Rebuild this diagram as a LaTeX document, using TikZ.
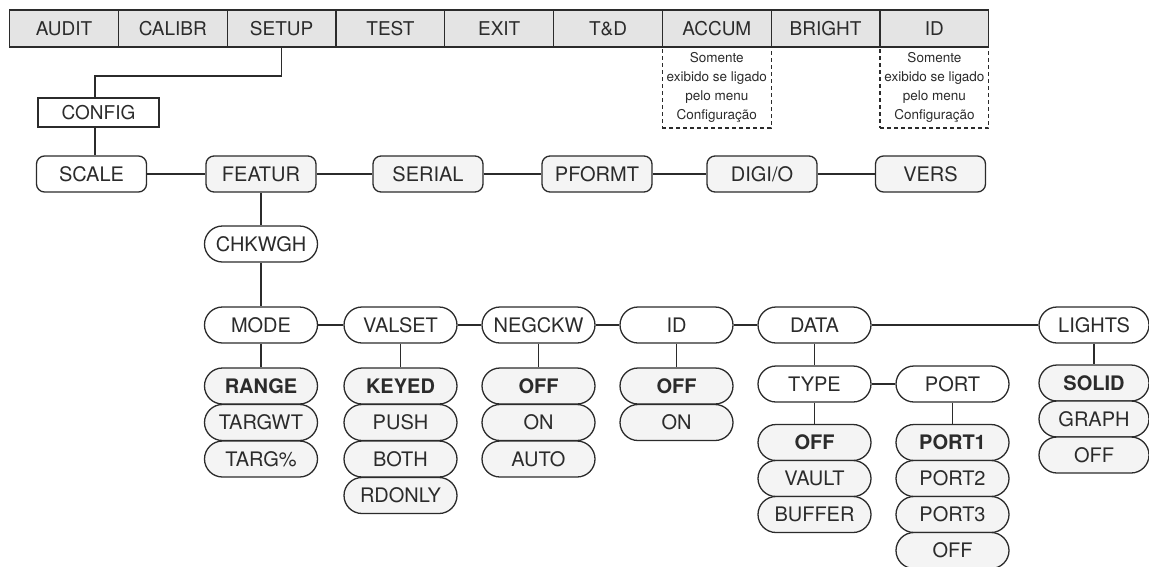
\documentclass[tikz,border=0pt]{standalone}
\usepackage{fontspec}
\setmainfont{TeX Gyre Heros}
\definecolor{ink}{HTML}{2B2B2B}
\definecolor{barfill}{HTML}{E4E4E4}
\definecolor{optfill}{HTML}{F4F4F4}
\begin{document}
\begin{tikzpicture}[x=1pt,y=-1pt,
  every node/.style={font=\fontsize{20}{24}\selectfont, text=ink, inner sep=0pt},
  bar/.style={draw=ink, line width=1.3pt, fill=barfill, minimum width=108.8pt, minimum height=37pt, font=\fontsize{19}{23}\selectfont},
  note/.style={draw=ink, dash pattern=on 4pt off 3pt, line width=1.1pt, minimum width=108.8pt, minimum height=81pt, align=center, font=\fontsize{13.5}{19}\selectfont},
  cfgbox/.style={draw=ink, line width=1.3pt, fill=white, minimum width=121pt, minimum height=29pt, font=\fontsize{19}{23}\selectfont},
  boxr/.style={draw=ink, line width=1.3pt, fill=white, minimum width=110pt, minimum height=36pt, rounded corners=8pt},
  boxg/.style={boxr, fill=optfill},
  pill/.style={draw=ink, line width=1.3pt, fill=white, minimum width=113pt, minimum height=36pt, rounded corners=18pt},
  opt/.style={pill, fill=optfill},
  dflt/.style={opt, font=\fontsize{20}{24}\selectfont\bfseries},
  wire/.style={draw=ink, line width=1.2pt},
  thickwire/.style={draw=ink, line width=2.2pt}
]
\useasboundingbox (0,0) rectangle (1149,566);

% notes under ACCUM and ID
\node[note] (noteA) at (716.8,87.5) {Somente\\exibido se ligado\\pelo menu\\Configuração};
\node[note] (noteB) at (934.4,87.5) {Somente\\exibido se ligado\\pelo menu\\Configuração};

% top bar
\node[bar] (audit)  at (64,28.5)    {AUDIT};
\node[bar] (calibr) at (172.8,28.5) {CALIBR};
\node[bar] (setup)  at (281.6,28.5) {SETUP};
\node[bar] (test)   at (390.4,28.5) {TEST};
\node[bar] (exit)   at (499.2,28.5) {EXIT};
\node[bar] (td)     at (608,28.5)   {T\&D};
\node[bar] (accum)  at (716.8,28.5) {ACCUM};
\node[bar] (bright) at (825.6,28.5) {BRIGHT};
\node[bar] (idtop)  at (934.4,28.5) {ID};

% config
\node[cfgbox] (config) at (98.5,112.5) {CONFIG};

% row 2
\node[boxr] (scale)  at (91.5,174)  {SCALE};
\node[boxg] (featur) at (261,174)   {FEATUR};
\node[boxg] (serial) at (428,174)   {SERIAL};
\node[boxg] (pformt) at (597,174)   {PFORMT};
\node[boxg] (digio)  at (762,174)   {DIGI/O};
\node[boxg] (vers)   at (930.5,174) {VERS};

% chkwgh
\node[pill] (chkwgh) at (261,244) {CHKWGH};

% row 3
\node[pill] (mode)   at (261,325)   {MODE};
\node[pill] (valset) at (400.5,325) {VALSET};
\node[pill] (negckw) at (538.5,325) {NEGCKW};
\node[pill] (idn)    at (676.5,325) {ID};
\node[pill] (data)   at (814.5,325) {DATA};
\node[pill, minimum width=110pt] (lights) at (1094,325) {LIGHTS};

% mode options
\node[dflt] (range)  at (261,386)   {RANGE};
\node[opt]  (targwt) at (261,422.5) {TARGWT};
\node[opt]  (targp)  at (261,459)   {TARG\%};

% valset options
\node[dflt] (keyed)  at (400.5,386)   {KEYED};
\node[opt]  (push)   at (400.5,422.5) {PUSH};
\node[opt]  (both)   at (400.5,459)   {BOTH};
\node[opt]  (rdonly) at (400.5,495.5) {RDONLY};

% negckw options
\node[dflt] (negoff) at (538.5,386)   {OFF};
\node[opt]  (negon)  at (538.5,422.5) {ON};
\node[opt]  (negauto) at (538.5,459)  {AUTO};

% id options
\node[dflt] (idoff) at (676.5,386)   {OFF};
\node[opt]  (idon)  at (676.5,422.5) {ON};

% data submenus
\node[pill] (type) at (814.5,384) {TYPE};
\node[pill] (port) at (952.5,384) {PORT};

\node[dflt] (typeoff) at (814.5,442.5) {OFF};
\node[opt]  (vault)   at (814.5,478.5) {VAULT};
\node[opt]  (buffer)  at (814.5,514.5) {BUFFER};

\node[dflt] (port1)   at (952.5,442.5) {PORT1};
\node[opt]  (port2)   at (952.5,478.5) {PORT2};
\node[opt]  (port3)   at (952.5,514.5) {PORT3};
\node[opt]  (portoff) at (952.5,550.5) {OFF};

% lights options
\node[dflt, minimum width=110pt] (solid) at (1094,383) {SOLID};
\node[opt, minimum width=110pt]  (graph) at (1094,419) {GRAPH};
\node[opt, minimum width=110pt]  (lightoff) at (1094,455) {OFF};

% connectors
\coordinate (j1) at (95,76);
\draw[wire] (setup.south) |- (j1) -- (j1 |- config.north);
\draw[wire] (j1 |- config.south) -- (j1 |- scale.north);

\draw[wire] (scale) -- (featur);
\draw[wire] (featur) -- (serial);
\draw[wire] (serial) -- (pformt);
\draw[wire] (pformt) -- (digio);
\draw[wire] (digio) -- (vers);

\draw[wire] (featur) -- (chkwgh);
\draw[wire] (chkwgh) -- (mode);

\draw[wire] (mode) -- (valset);
\draw[wire] (valset) -- (negckw);
\draw[wire] (negckw) -- (idn);
\draw[wire] (idn) -- (data);
\draw[wire] (data) -- (lights);

\draw[thickwire] (mode) -- (range);
\draw[wire] (valset) -- (keyed);
\draw[wire] (negckw) -- (negoff);
\draw[wire] (idn) -- (idoff);
\draw[wire] (data) -- (type);
\draw[wire] (type) -- (port);
\draw[wire] (type) -- (typeoff);
\draw[wire] (port) -- (port1);
\draw[wire] (lights) -- (solid);
\end{tikzpicture}
\end{document}
